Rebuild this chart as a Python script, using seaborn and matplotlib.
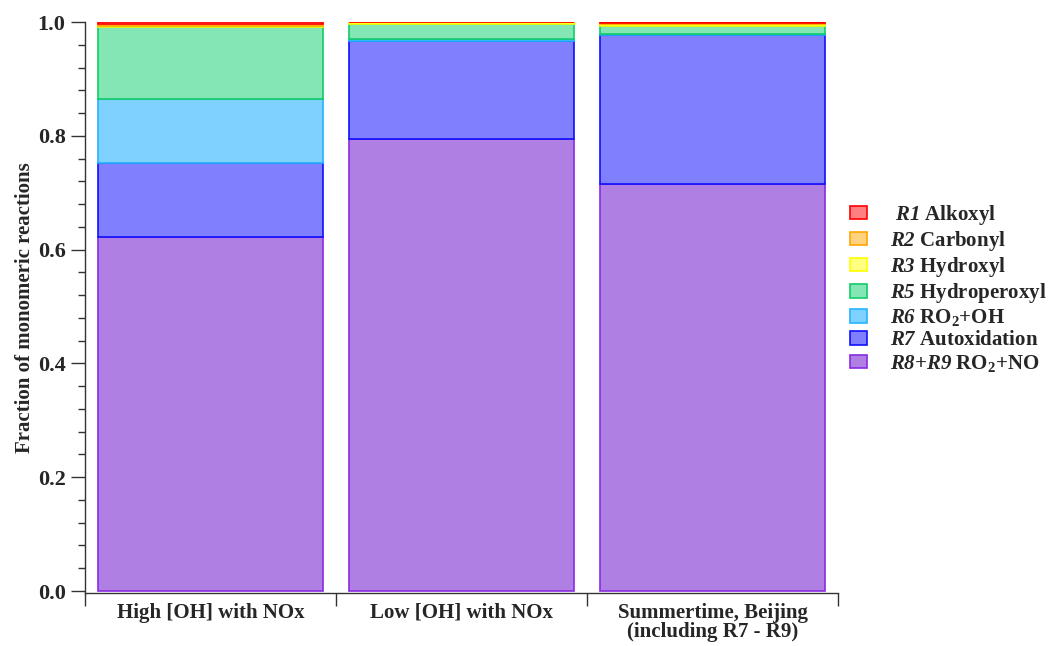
import numpy as np
import pandas as pd
import matplotlib
matplotlib.use("Agg")
import matplotlib.pyplot as plt
import seaborn as sns
from matplotlib.patches import Patch
from matplotlib.ticker import MultipleLocator, FixedLocator

# ---- data ----
categories = ["High [OH] with NOx", "Low [OH] with NOx",
              "Summertime, Beijing\n(including R7 - R9)"]
r8r9 = [0.622, 0.795, 0.715]
r7 = [0.130, 0.172, 0.262]
r6 = [0.113, 0.003, 0.002]
r5 = [0.126, 0.027, 0.014]
r3 = [0.002, 0.003, 0.003]
r2 = [0.003, 0.000, 0.002]
r1 = [0.004, 0.000, 0.002]

series_labels = [
    r" $\mathbfit{R1}$ Alkoxyl",
    r"$\mathbfit{R2}$ Carbonyl",
    r"$\mathbfit{R3}$ Hydroxyl",
    r"$\mathbfit{R5}$ Hydroperoxyl",
    r"$\mathbfit{R6}$ RO$_\mathbf{2}$+OH",
    r"$\mathbfit{R7}$ Autoxidation",
    r"$\mathbfit{R8}$+$\mathbfit{R9}$ RO$_\mathbf{2}$+NO",
]
series_values = [r1, r2, r3, r5, r6, r7, r8r9]
fill_colors = ["#FF8080", "#FFD280", "#FFFF80", "#84E6B4", "#7FD2FF", "#8080FF", "#B07FE3"]
edge_colors = ["#FF0000", "#FFA500", "#FFFF00", "#10CC66", "#22B4FF", "#1010FF", "#8A2BE2"]

# ---- style ----
sns.set_style("ticks")
plt.rcParams["font.family"] = ["Liberation Serif", "DejaVu Serif"]
plt.rcParams["font.weight"] = "bold"
plt.rcParams["mathtext.fontset"] = "custom"
plt.rcParams["mathtext.rm"] = "Liberation Serif:bold"
plt.rcParams["mathtext.bf"] = "Liberation Serif:bold"
plt.rcParams["mathtext.it"] = "Liberation Serif:italic:bold"
plt.rcParams["mathtext.bfit"] = "Liberation Serif:italic:bold"

fig = plt.figure(figsize=(10.48, 6.46), dpi=100)
ax = fig.add_axes([85 / 1048, 1 - 593 / 646, (838 - 85) / 1048, (593 - 22) / 646])

# stack from bottom (R8+R9) upward
order_idx = list(range(len(series_values)))[::-1]
bottom = np.zeros(len(categories))
for i in order_idx:
    df = pd.DataFrame({"category": categories, "value": series_values[i]})
    sns.barplot(data=df, x="category", y="value", order=categories,
                bottom=bottom.copy(), color=fill_colors[i], saturation=1,
                edgecolor=edge_colors[i], linewidth=1.2, width=0.9,
                errorbar=None, ax=ax)
    bottom = bottom + np.array(series_values[i])

ax.set_xlim(-0.5, 2.5)
ax.set_ylim(-0.0035, 1.0)
ax.set_xlabel("")
ax.set_ylabel("Fraction of monomeric reactions", fontsize=15, fontweight="bold", labelpad=2)

ax.set_xticks(range(len(categories)))
ax.set_xticklabels(categories, fontsize=15, fontweight="bold", linespacing=0.95)
ax.xaxis.set_minor_locator(FixedLocator([-0.5, 0.5, 1.5, 2.5]))
ax.tick_params(axis="x", which="major", length=0, pad=7)
ax.tick_params(axis="x", which="minor", length=9, width=1, direction="out", color="#333333")

ax.yaxis.set_major_locator(MultipleLocator(0.2))
ax.yaxis.set_minor_locator(MultipleLocator(0.04))
ax.set_yticks([0, 0.2, 0.4, 0.6, 0.8, 1.0])
ax.set_yticklabels(["0.0", "0.2", "0.4", "0.6", "0.8", "1.0"], fontsize=16, fontweight="bold")
ax.tick_params(axis="y", which="major", length=10, width=1, direction="out", color="#333333", pad=4)
ax.tick_params(axis="y", which="minor", length=5, width=1, direction="out", color="#333333")

for s in ["top", "right"]:
    ax.spines[s].set_visible(False)
for s in ["left", "bottom"]:
    ax.spines[s].set_color("#333333")
    ax.spines[s].set_linewidth(1)

handles = [Patch(facecolor=fill_colors[i], edgecolor=edge_colors[i], linewidth=1.2)
           for i in range(len(series_labels))]
fig.legend(handles, series_labels, loc="upper left", bbox_to_anchor=(850 / 1048, 1 - 203 / 646),
           frameon=False, handlelength=0.8, handleheight=0.6,
           labelspacing=0.1, handletextpad=1.1, borderaxespad=0, borderpad=0,
           prop={"family": "Liberation Serif", "weight": "bold", "size": 15})

fig.savefig("out.png", dpi=100)
